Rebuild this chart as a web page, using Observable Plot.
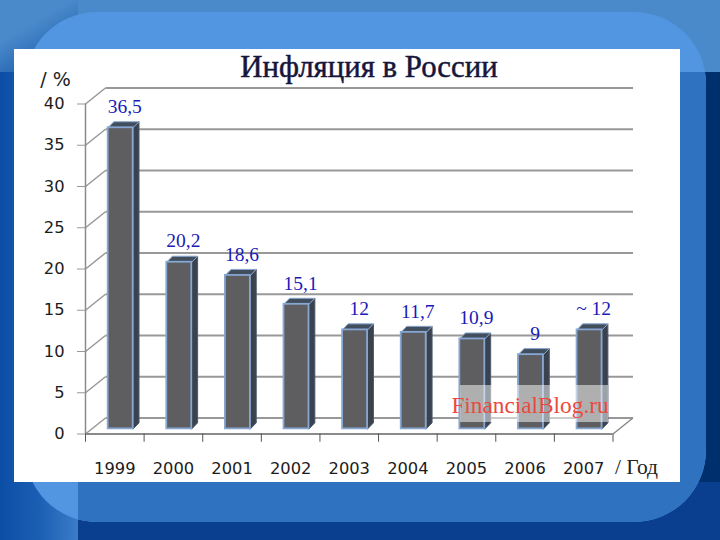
<!DOCTYPE html>
<html lang="ru">
<head>
<meta charset="utf-8">
<script src="https://cdn.jsdelivr.net/npm/d3@7"></script>
<script src="https://cdn.jsdelivr.net/npm/@observablehq/plot@0.6"></script>
<style>
html,body{margin:0;padding:0;width:720px;height:540px;overflow:hidden}
#stage{position:relative;width:720px;height:540px;overflow:hidden;background:#0a3f8f}
#stage>div,#stage>svg{position:absolute}
#bgTop{left:0;top:0;width:720px;height:72px;background:linear-gradient(#4b8aca,#4b8aca)}
#bgTopLeft{left:0;top:0;width:78px;height:72px;background:linear-gradient(150deg,#4b8aca 35%,#0b4ea5 100%)}
#bgLeft{left:0;top:72px;width:78px;height:468px;background:linear-gradient(90deg,#0c4ea6,#1b5fb4 50%,#3a7cc8)}
#bgRight{left:680px;top:72px;width:40px;height:410px;background:#002f6e}
#panel{left:25px;top:12px;width:681px;height:510px;border-radius:72px;overflow:hidden;background:#5296e2}
#panelDark{position:absolute;left:53px;top:60px;width:700px;height:500px;background:#2e72c0}
#sheet{left:14px;top:49px;width:666px;height:433px;background:#fff}
#title{left:14px;top:48px;width:710px;text-align:center;font:500 30.8px/38px "Liberation Serif",serif;color:#16163c;-webkit-text-stroke:.5px #16163c}
#chart{left:0;top:0}
#mark{left:460px;top:385px;width:148px;height:37px;background:rgba(255,255,255,.5)}
#markText{left:451px;top:391px;width:158px;text-align:center;font:23.3px/28px "Liberation Serif",serif;color:#ea4a3c;white-space:nowrap}
</style>
</head>
<body>
<div id="stage">
  <div id="bgTop"></div><div id="bgTopLeft"></div><div id="bgLeft"></div><div id="bgRight"></div>
  <div id="panel"><div id="panelDark"></div></div>
  <div id="sheet"></div>
  <div id="title">Инфляция в России</div>
</div>
<script>
const years = [1999, 2000, 2001, 2002, 2003, 2004, 2005, 2006, 2007];
const values = [36.5, 20.2, 18.6, 15.1, 12, 11.7, 10.9, 9, 12];
const labels = ["36,5", "20,2", "18,6", "15,1", "12", "11,7", "10,9", "9", "~ 12"];
const yTicks = [0, 5, 10, 15, 20, 25, 30, 35, 40];

// Oblique 3-D look, expressed in data units of the two scales
const wallX = 0.341, wallY = 1.94;      // depth of the back wall
const barX = 0.1, barY = 0.62;          // bar placement on the floor
const deepX = 0.1, deepY = 0.73;        // depth of a bar
const halfBar = 0.213;
const firstEdge = years[0] - 0.5, lastEdge = years[years.length - 1] + 0.5;
const edges = d3.range(firstEdge, lastEdge + 0.01, 1);

const rows = years.map((year, i) => ({year, value: values[i], label: labels[i]}));
const L = d => d.year + barX - halfBar, R = d => d.year + barX + halfBar;
const T = d => d.value + barY;

const side = rows.flatMap(d => [
  {k: d.year, x: R(d), y: barY},
  {k: d.year, x: R(d) + deepX, y: barY + deepY},
  {k: d.year, x: R(d) + deepX, y: T(d) + deepY},
  {k: d.year, x: R(d), y: T(d)}
]);
const cap = rows.flatMap(d => [
  {k: d.year, x: L(d), y: T(d)},
  {k: d.year, x: R(d), y: T(d)},
  {k: d.year, x: R(d) + deepX, y: T(d) + deepY},
  {k: d.year, x: L(d) + deepX, y: T(d) + deepY}
]);

const gridColor = "#989898", axisColor = "#8a8a8a", edgeBlue = "#86a7d2";
const tickFont = {fontFamily: "'DejaVu Sans',sans-serif", fontSize: 16.3, fill: "#1c1c1c"};

const chart = Plot.plot({
  width: 720, height: 540,
  marginLeft: 85, marginRight: 107.5, marginTop: 103.5, marginBottom: 106.5,
  style: {background: "transparent", overflow: "visible"},
  x: {domain: [firstEdge, lastEdge]},
  y: {domain: [0, 40]},
  marks: [
    // back wall grid
    Plot.link(yTicks, {x1: firstEdge + wallX, x2: lastEdge + wallX, y1: d => d + wallY, y2: d => d + wallY, stroke: gridColor, strokeWidth: 2}),
    // left wall diagonals
    Plot.link(yTicks, {x1: firstEdge, x2: firstEdge + wallX, y1: d => d, y2: d => d + wallY, stroke: gridColor, strokeWidth: 1.5}),
    // floor
    Plot.link([0], {x1: lastEdge, x2: lastEdge + wallX, y1: 0, y2: wallY, stroke: axisColor, strokeWidth: 1.5}),
    // bars
    Plot.line(side, {x: "x", y: "y", z: "k", fill: "#39424e", stroke: "#4d5a6a", strokeWidth: 1, curve: "linear-closed"}),
    Plot.line(cap, {x: "x", y: "y", z: "k", fill: "#434e5c", stroke: edgeBlue, strokeWidth: 1, curve: "linear-closed"}),
    Plot.rect(rows, {x1: L, x2: R, y1: barY, y2: T, fill: "#5e5e60", stroke: edgeBlue, strokeWidth: 1.8}),
    // value labels
    Plot.text(rows, {x: d => d.year + barX + 0.07, y: T, text: "label", dy: -21, fill: "#1a1ab8", fontSize: 19.5, fontFamily: "'Liberation Serif',serif"}),
    // front axes
    Plot.ruleX([firstEdge], {y1: 0, y2: 40, stroke: axisColor, strokeWidth: 1.5}),
    Plot.ruleY([0], {x1: firstEdge, x2: lastEdge, stroke: axisColor, strokeWidth: 2}),
    Plot.ruleX(edges, {y1: 0, y2: -1, stroke: "#555", strokeWidth: 1}),
    Plot.axisY({ticks: yTicks, tickFormat: d => String(d), tickSize: 8, tickPadding: 13, stroke: gridColor, label: null, ...tickFont}),
    Plot.axisX({ticks: years, tickFormat: d => String(d), tickSize: 0, tickPadding: 28, label: null, ...tickFont}),
    // axis captions
    Plot.text(["/ %"], {x: firstEdge, y: 40, dx: -30, dy: -24, fontSize: 19, fill: "#222", fontFamily: "'DejaVu Sans',sans-serif"}),
    Plot.text(["/ Год"], {x: lastEdge, y: 0, dx: 2, dy: 33, textAnchor: "start", fontSize: 21.5, fill: "#222", fontFamily: "'Liberation Serif',serif"})
  ]
});
chart.id = "chart";
const stage = document.getElementById("stage");
stage.appendChild(chart);
const mark = document.createElement("div"); mark.id = "mark"; stage.appendChild(mark);
const mt = document.createElement("div"); mt.id = "markText"; mt.textContent = "FinancialBlog.ru"; stage.appendChild(mt);
</script>
</body>
</html>
